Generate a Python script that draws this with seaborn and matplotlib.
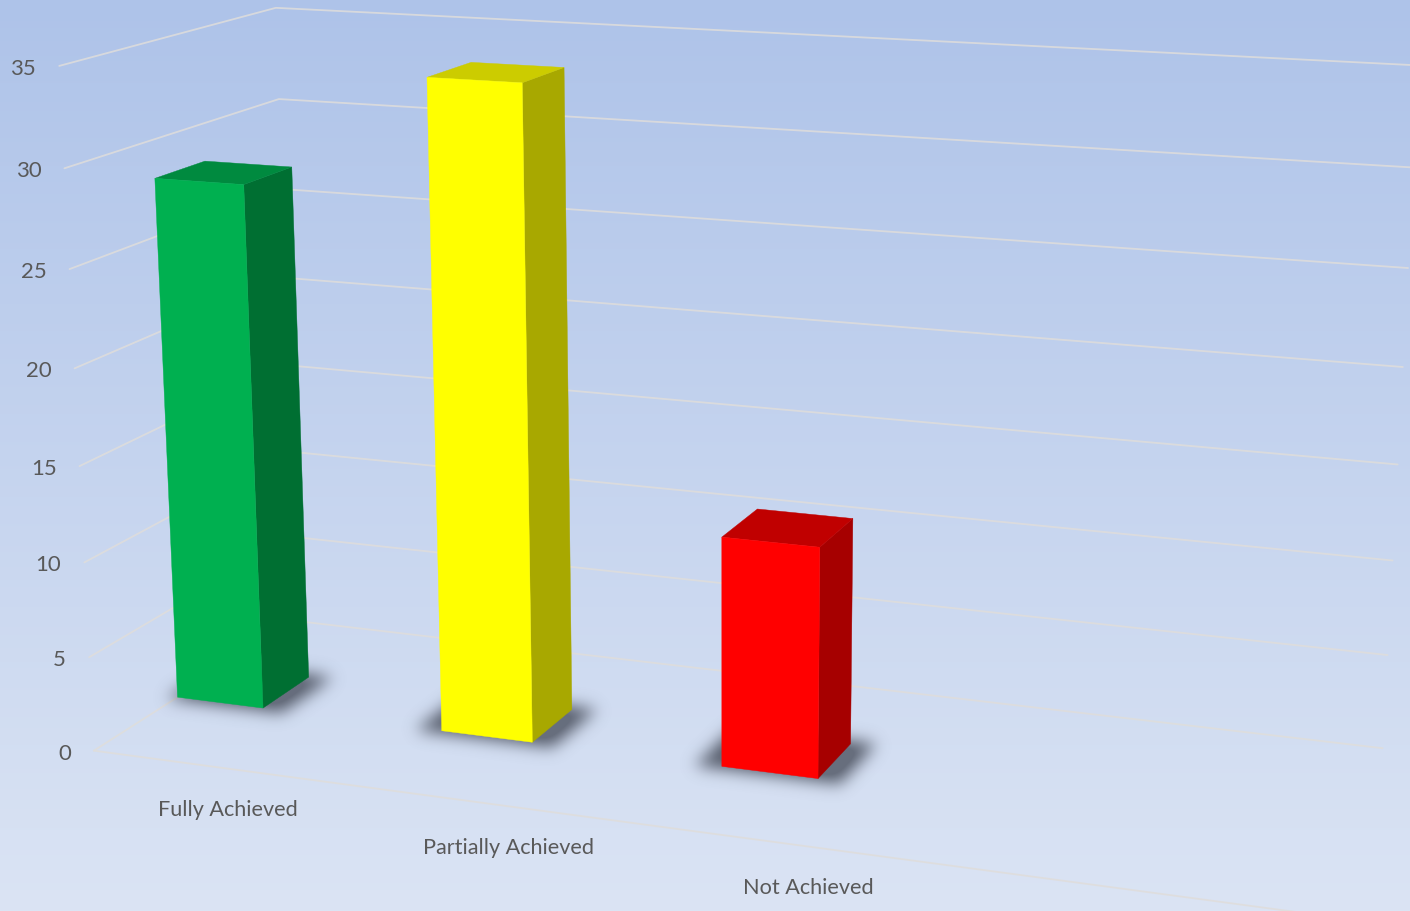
import numpy as np
import pandas as pd
import seaborn as sns
import matplotlib
matplotlib.use("Agg")
import matplotlib.pyplot as plt
from matplotlib.path import Path

categories = ["Fully Achieved", "Partially Achieved", "Not Achieved"]
values = [28, 34, 12]
levels = [0, 5, 10, 15, 20, 25, 30, 35]
front_colors = ["#00B050", "#FFFF00", "#FF0000"]
top_colors = ["#008A3F", "#CCCC00", "#C00000"]
side_colors = ["#006F32", "#A8A800", "#A60000"]

# camera: (slot, value, depth) -> pixel, fitted from the corners of the box
slots = 4
calib = [((0, 0, 0), (95, 750)), ((0, 5, 0), (90, 656)), ((0, 10, 0), (85, 562)),
         ((0, 15, 0), (80, 466)), ((0, 20, 0), (75, 370)), ((0, 25, 0), (68, 270)),
         ((0, 30, 0), (63, 168)), ((0, 35, 0), (58, 66)),
         ((0, 0, 1), (294, 622)), ((0, 30, 1), (280, 99)), ((0, 35, 1), (278, 7)),
         ((4, 0, 1), (1382, 748)), ((4, 5, 1), (1388, 655)), ((4, 10, 1), (1393, 561)),
         ((4, 15, 1), (1398, 465)), ((4, 20, 1), (1403, 366)), ((4, 25, 1), (1408, 268)),
         ((4, 30, 1), (1413, 167)), ((4, 35, 1), (1418, 66)),
         ((4, 0, 0), (1303, 913))]
rows = []
for (x, y, z), (u, v) in calib:
    rows.append([x, y, z, 1, 0, 0, 0, 0, -u * x, -u * y, -u * z, -u])
    rows.append([0, 0, 0, 0, x, y, z, 1, -v * x, -v * y, -v * z, -v])
cam = np.linalg.svd(np.array(rows, float))[2][-1].reshape(3, 4)


def proj(x, y, z):
    r = cam @ np.array([x, y, z, 1.0])
    return r[0] / r[2], r[1] / r[2]


bar_w = 0.33
z_front = 0.385
z_back = 0.62

sns.set_theme(style="white")
plt.rcParams["font.family"] = ["Lato", "DejaVu Sans"]

W, H = 1410, 911
fig = plt.figure(figsize=(W / 100, H / 100), dpi=100)
ax = fig.add_axes([0, 0, 1, 1])

# background gradient
top_bg = np.array([174, 195, 233]) / 255
bot_bg = np.array([219, 228, 244]) / 255
t = np.linspace(0, 1, H)[:, None, None]
ax.imshow(top_bg[None, None, :] * (1 - t) + bot_bg[None, None, :] * t,
          extent=[0, W, H, 0], aspect="auto", zorder=0)

# gridlines on left wall and back wall, floor front edge
grid = []
for lv in levels:
    for p in [(0, lv, 0), (0, lv, 1), (slots, lv, 1)]:
        u, v = proj(*p)
        grid.append({"u": u, "v": v, "line": f"l{lv}"})
for p in [(0, 0, 0), (slots, 0, 0)]:
    u, v = proj(*p)
    grid.append({"u": u, "v": v, "line": "front"})
sns.lineplot(data=pd.DataFrame(grid), x="u", y="v", units="line", estimator=None,
             sort=False, color="#DFDDDB", linewidth=1.3, alpha=0.85, ax=ax, zorder=1)

# soft shadow under each bar
yy, xx = np.mgrid[0:H, 0:W]
pix = np.column_stack([xx.ravel() + 0.5, yy.ravel() + 0.5])
kernel = np.exp(-0.5 * (np.arange(-24, 25) / 8.0) ** 2)
kernel = kernel / kernel.sum()
shadow = np.zeros((H, W))
for i in range(len(values)):
    x0 = max(i - 0.085, -0.03)
    x1 = i + bar_w + 0.08
    foot = [proj(x0, 0, z_front - 0.015), proj(x1, 0, z_front - 0.015),
            proj(x1, 0, z_back + 0.02), proj(x0, 0, z_back + 0.02)]
    shadow += Path(foot).contains_points(pix).reshape(H, W)
shadow = np.apply_along_axis(lambda c: np.convolve(c, kernel, mode="same"), 0, shadow)
shadow = np.apply_along_axis(lambda c: np.convolve(c, kernel, mode="same"), 1, shadow)
rgba = np.zeros((H, W, 4))
rgba[..., :3] = np.array([76, 82, 96]) / 255
rgba[..., 3] = np.clip(shadow * 1.2, 0, 1) * 0.8
ax.imshow(rgba, extent=[0, W, H, 0], aspect="auto", zorder=2)

# bars
for i, val in enumerate(values):
    x0, x1 = i, i + bar_w
    faces = [
        ([(x1, 0, z_front), (x1, 0, z_back), (x1, val, z_back), (x1, val, z_front)], side_colors[i]),
        ([(x0, val, z_front), (x1, val, z_front), (x1, val, z_back), (x0, val, z_back)], top_colors[i]),
        ([(x0, 0, z_front), (x1, 0, z_front), (x1, val, z_front), (x0, val, z_front)], front_colors[i]),
    ]
    for corners, col in faces:
        pts = np.array([proj(*c) for c in corners])
        ax.fill(pts[:, 0], pts[:, 1], color=col, lw=0.3, zorder=3)

# tick labels
for lv in levels:
    u, v = proj(0, lv, 0)
    ax.annotate(str(lv), (u, v), xytext=(-23, -3), textcoords="offset pixels",
                ha="right", va="center", fontsize=16, color="#595959", zorder=4)
for i, name in enumerate(categories):
    u, v = proj(i + 0.4, 0, 0)
    ax.annotate(name, (u, v), xytext=(26, -45), textcoords="offset pixels",
                ha="center", va="center", fontsize=15.6, color="#595959", zorder=4)

ax.set_xlim(0, W)
ax.set_ylim(H, 0)
ax.axis("off")
fig.savefig("out.png", dpi=100)
